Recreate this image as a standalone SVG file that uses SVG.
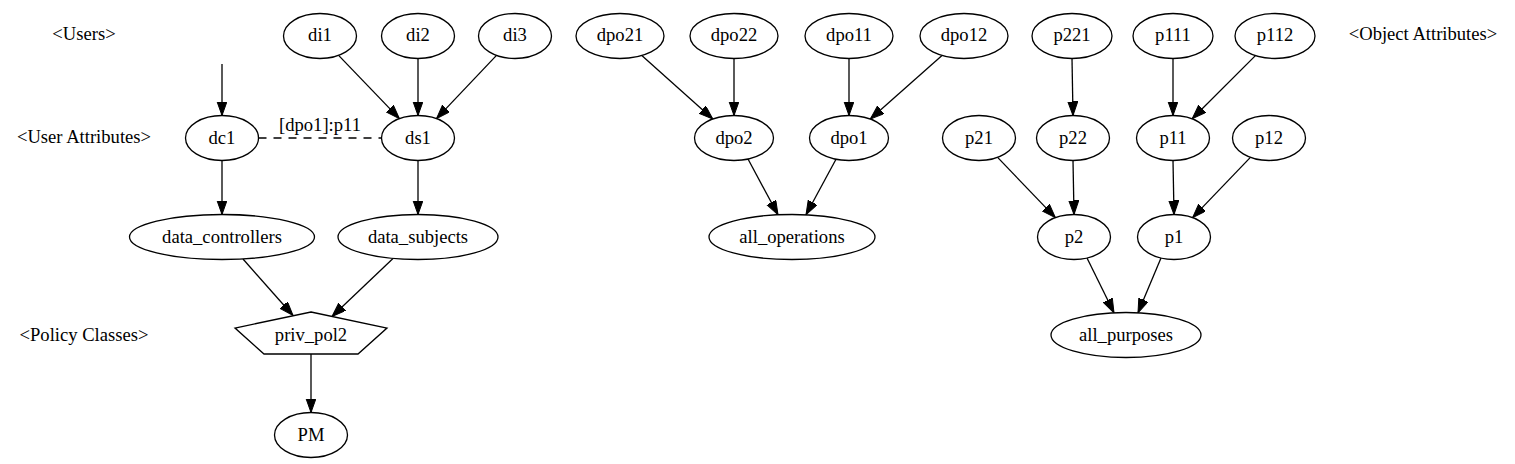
<svg xmlns="http://www.w3.org/2000/svg" width="1515" height="464" viewBox="0 0 1515 464" font-family="'Liberation Serif', 'DejaVu Serif', serif">
<style>
.n ellipse, .n polygon { fill: #fff; stroke: #000; stroke-width: 1.3; }
text { font-family: "Liberation Serif", "DejaVu Serif", serif; font-size: 18.6px; fill: #000; text-anchor: middle; }
.e line { stroke: #000; stroke-width: 1.3; fill: none; }
.e line.a { marker-end: url(#arr); }
.e line.d { stroke-dasharray: 8 7; }
</style>
<defs>
<marker id="arr" markerUnits="userSpaceOnUse" markerWidth="16" markerHeight="12" refX="14" refY="5" orient="auto">
<path d="M0,0 L14,5 L0,10 z" fill="#000" stroke="#000" stroke-width="1"/>
</marker>
</defs>
<rect width="1515" height="464" fill="#fff"/>

<g id="labels">
<text x="84" y="40">&lt;Users&gt;</text>
<text x="84" y="143">&lt;User Attributes&gt;</text>
<text x="84" y="341">&lt;Policy Classes&gt;</text>
<text x="1423" y="40">&lt;Object Attributes&gt;</text>
</g>

<g class="e" id="edges">
<line class="a" x1="222" y1="64" x2="222" y2="115.5"/>
<line class="a" x1="338.6" y1="55.4" x2="399.4" y2="118.6"/>
<line class="a" x1="418" y1="58.5" x2="418" y2="115.5"/>
<line class="a" x1="496.5" y1="55.4" x2="436.5" y2="118.6"/>
<line class="d" x1="258.5" y1="138" x2="381.5" y2="138"/>
<line class="a" x1="222" y1="160.5" x2="222" y2="214.5"/>
<line class="a" x1="418" y1="160.5" x2="418" y2="214.5"/>
<line class="a" x1="243" y1="259" x2="293" y2="315.5"/>
<line class="a" x1="393" y1="258.5" x2="332" y2="316.5"/>
<line class="a" x1="311" y1="354" x2="311" y2="412.5"/>
<line class="a" x1="641.8" y1="55.5" x2="712.8" y2="119"/>
<line class="a" x1="734" y1="58.5" x2="734" y2="115.5"/>
<line class="a" x1="849" y1="58.5" x2="849" y2="115.5"/>
<line class="a" x1="942" y1="55.5" x2="870.3" y2="119.1"/>
<line class="a" x1="748" y1="159" x2="778" y2="214.8"/>
<line class="a" x1="836" y1="159.3" x2="806" y2="214.8"/>
<line class="a" x1="1072" y1="58.5" x2="1073" y2="115.5"/>
<line class="a" x1="1173" y1="58.5" x2="1173" y2="115.5"/>
<line class="a" x1="1255.4" y1="55.6" x2="1192.2" y2="118.8"/>
<line class="a" x1="997.6" y1="157.4" x2="1055.4" y2="217.6"/>
<line class="a" x1="1073" y1="160.5" x2="1074" y2="214.5"/>
<line class="a" x1="1173" y1="160.5" x2="1174" y2="214.5"/>
<line class="a" x1="1250.4" y1="157.4" x2="1192.6" y2="217.6"/>
<line class="a" x1="1087" y1="258" x2="1114" y2="312.8"/>
<line class="a" x1="1161" y1="258" x2="1138" y2="312.8"/>
<text x="320" y="131">[dpo1]:p11</text>
</g>

<g class="n" id="di1"><ellipse cx="320" cy="36" rx="36.5" ry="22.5"/><text x="320" y="41">di1</text></g>
<g class="n" id="di2"><ellipse cx="418" cy="36" rx="36.5" ry="22.5"/><text x="418" y="41">di2</text></g>
<g class="n" id="di3"><ellipse cx="515" cy="36" rx="36.5" ry="22.5"/><text x="515" y="41">di3</text></g>
<g class="n" id="dpo21"><ellipse cx="620" cy="36" rx="44" ry="22.5"/><text x="620" y="41">dpo21</text></g>
<g class="n" id="dpo22"><ellipse cx="734" cy="36" rx="44" ry="22.5"/><text x="734" y="41">dpo22</text></g>
<g class="n" id="dpo11"><ellipse cx="849" cy="36" rx="44" ry="22.5"/><text x="849" y="41">dpo11</text></g>
<g class="n" id="dpo12"><ellipse cx="964" cy="36" rx="44" ry="22.5"/><text x="964" y="41">dpo12</text></g>
<g class="n" id="p221"><ellipse cx="1072" cy="36" rx="40" ry="22.5"/><text x="1072" y="41">p221</text></g>
<g class="n" id="p111"><ellipse cx="1173" cy="36" rx="40" ry="22.5"/><text x="1173" y="41">p111</text></g>
<g class="n" id="p112"><ellipse cx="1275" cy="36" rx="40" ry="22.5"/><text x="1275" y="41">p112</text></g>

<g class="n" id="dc1"><ellipse cx="222" cy="138" rx="36.5" ry="22.5"/><text x="222" y="143.5">dc1</text></g>
<g class="n" id="ds1"><ellipse cx="418" cy="138" rx="36.5" ry="22.5"/><text x="418" y="143.5">ds1</text></g>
<g class="n" id="dpo2"><ellipse cx="734" cy="138" rx="39.5" ry="22.5"/><text x="734" y="143.5">dpo2</text></g>
<g class="n" id="dpo1"><ellipse cx="849" cy="138" rx="39.5" ry="22.5"/><text x="849" y="143.5">dpo1</text></g>
<g class="n" id="p21"><ellipse cx="979" cy="138" rx="36.5" ry="22.5"/><text x="979" y="143.5">p21</text></g>
<g class="n" id="p22"><ellipse cx="1073" cy="138" rx="36.5" ry="22.5"/><text x="1073" y="143.5">p22</text></g>
<g class="n" id="p11"><ellipse cx="1173" cy="138" rx="36.5" ry="22.5"/><text x="1173" y="143.5">p11</text></g>
<g class="n" id="p12"><ellipse cx="1269" cy="138" rx="36.5" ry="22.5"/><text x="1269" y="143.5">p12</text></g>

<g class="n" id="data_controllers"><ellipse cx="222" cy="237" rx="92.5" ry="22.5"/><text x="222" y="242.5">data_controllers</text></g>
<g class="n" id="data_subjects"><ellipse cx="418" cy="237" rx="80" ry="22.5"/><text x="418" y="242.5">data_subjects</text></g>
<g class="n" id="all_operations"><ellipse cx="792" cy="237" rx="83" ry="22.5"/><text x="792" y="242.5">all_operations</text></g>
<g class="n" id="p2"><ellipse cx="1074" cy="237" rx="36.5" ry="22.5"/><text x="1074" y="242.5">p2</text></g>
<g class="n" id="p1"><ellipse cx="1174" cy="237" rx="36.5" ry="22.5"/><text x="1174" y="242.5">p1</text></g>

<g class="n" id="priv_pol2"><polygon points="311,312 387,328 358,354 264,354 235,328"/><text x="311" y="340.5">priv_pol2</text></g>
<g class="n" id="all_purposes"><ellipse cx="1126" cy="335" rx="75" ry="22.5"/><text x="1126" y="340.5">all_purposes</text></g>

<g class="n" id="PM"><ellipse cx="311" cy="435" rx="36.5" ry="22.5"/><text x="311" y="440.5">PM</text></g>
</svg>
